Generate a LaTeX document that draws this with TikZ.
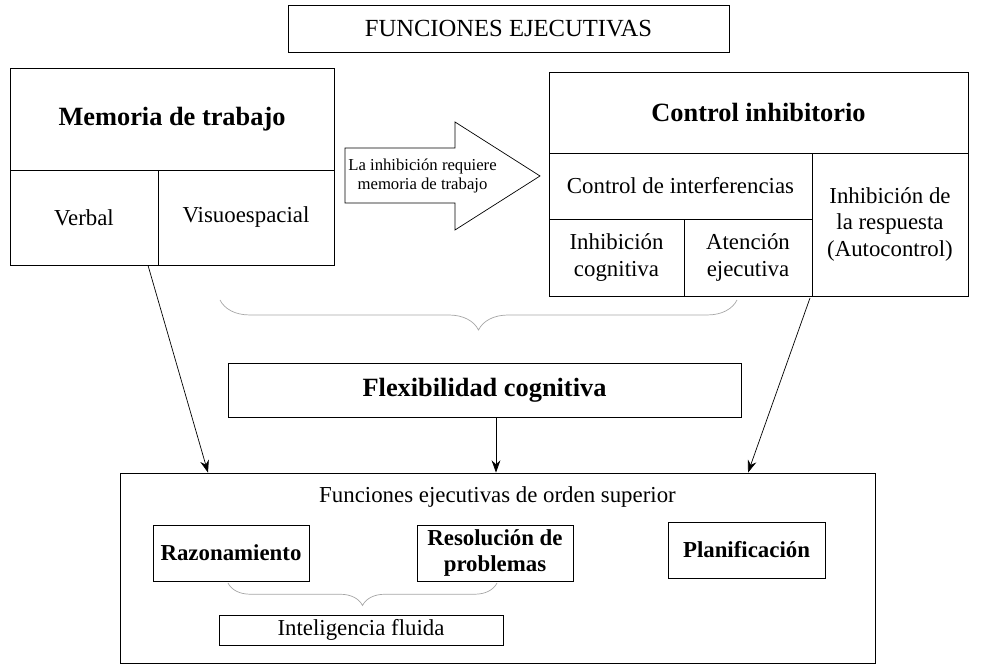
\documentclass[tikz,border=0pt]{standalone}
\usepackage{fontspec}
\setmainfont{Liberation Serif}
\usetikzlibrary{positioning}
\usetikzlibrary{arrows.meta}
\usetikzlibrary{decorations.pathreplacing}
\tikzset{
  cell/.style={draw, rectangle, align=center, inner sep=0pt, font=\fontsize{13}{15}\selectfont},
  head/.style={cell, font=\fontsize{15}{17}\selectfont\bfseries},
  task/.style={cell, font=\fontsize{13}{15}\selectfont\bfseries},
  link/.style={-{Stealth[length=7pt,width=5pt]}, thin},
  curly/.style={decorate, decoration={brace, mirror, amplitude=#1}, gray!70, thin}
}
\begin{document}
\begin{tikzpicture}
            \useasboundingbox (0,0) rectangle (19.68,13.32);
            % Title
            \node[cell, minimum width=8.82cm, minimum height=0.94cm, font=\fontsize{14}{16}\selectfont] (title) at (10.17,12.75) {FUNCIONES EJECUTIVAS};
            
            % Working memory
            \node[head, minimum width=6.48cm, minimum height=2.04cm] (memoria) at (3.44,10.94) {Memoria de trabajo};
            \node[cell, minimum width=2.96cm, minimum height=1.9cm] (verbal) at (1.68,8.97) {Verbal};
            \node[cell, minimum width=3.52cm, minimum height=1.9cm] (visuo) at (4.92,8.97) {Visuoespacial};
            
            % Block arrow
            \draw (6.9,10.36) -- (9.1,10.36) -- (9.1,10.88) -- (10.8,9.8) -- (9.1,8.72) -- (9.1,9.26) -- (6.9,9.26) -- cycle;
            \node[align=center, font=\fontsize{9.5}{11}\selectfont] (requiere) at (8.45,9.8) {La inhibición requiere\\memoria de trabajo};
            
            % Inhibitory control
            \node[head, minimum width=8.38cm, minimum height=1.62cm] (control) at (15.17,11.07) {Control inhibitorio};
            \node[cell, minimum width=5.26cm, minimum height=1.32cm] (interf) at (13.61,9.6) {Control de interferencias};
            \node[cell, minimum width=2.7cm, minimum height=1.54cm] (inhcog) at (12.33,8.17) {Inhibición\\cognitiva};
            \node[cell, minimum width=2.56cm, minimum height=1.54cm] (atencion) at (14.96,8.17) {Atención\\ejecutiva};
            \node[cell, minimum width=3.12cm, minimum height=2.86cm] (inhresp) at (17.8,8.83) {Inhibición de\\la respuesta\\(Autocontrol)};
            
            % Flexibility
            \coordinate (b1) at (4.4,7.32);
            \coordinate (b2) at (14.74,7.32);
            \draw[curly=0.6cm] (b1) -- (b2);
            \node[head, minimum width=10.26cm, minimum height=1.08cm] (flex) at (9.69,5.52) {Flexibilidad cognitiva};
            
            % Higher order functions
            \node[cell, minimum width=15.1cm, minimum height=3.8cm] (superior) at (9.95,1.96) {};
            \node[font=\fontsize{13}{15}\selectfont] (suptxt) at (9.95,3.38) {Funciones ejecutivas de orden superior};
            \node[task, minimum width=3.12cm, minimum height=1.12cm] (razon) at (4.62,2.26) {Razonamiento};
            \node[task, minimum width=3.12cm, minimum height=1.12cm] (resol) at (9.9,2.26) {Resolución de\\problemas};
            \node[task, minimum width=3.14cm, minimum height=1.12cm] (plan) at (14.93,2.32) {Planificación};
            \coordinate (c1) at (4.56,1.66);
            \coordinate (c2) at (9.94,1.66);
            \draw[curly=0.45cm] (c1) -- (c2);
            \node[cell, minimum width=5.68cm, minimum height=0.6cm] (fluida) at (7.22,0.72) {Inteligencia fluida};
            
            % Connectors
            \draw[link] (verbal.south -| 2.96,0) -- (superior.north -| 4.16,0);
            \draw[link] (flex.south -| 9.92,0) -- (superior.north -| 9.92,0);
            \draw[link] (16.2,7.36) -- (superior.north -| 14.96,0);
\end{tikzpicture}
\end{document}
